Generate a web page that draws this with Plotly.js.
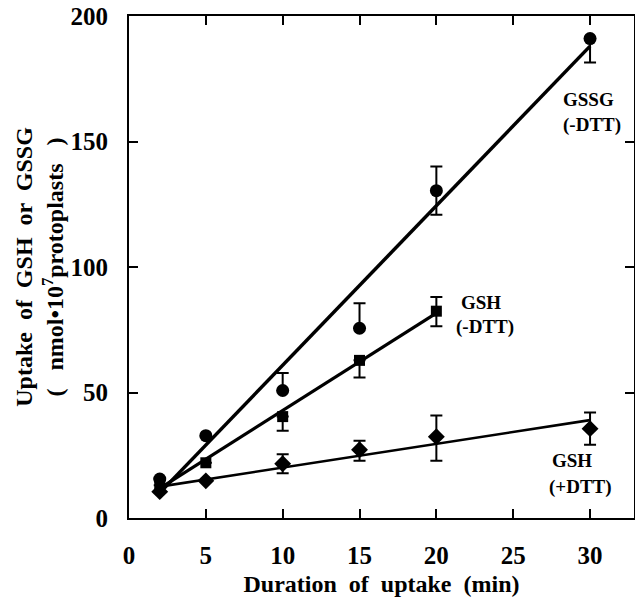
<!DOCTYPE html>
<html>
<head>
<meta charset="utf-8">
<script src="https://cdn.plot.ly/plotly-3.0.1.min.js"></script>
<style>html,body{margin:0;padding:0;background:#fff;}#chart{width:635px;height:597px;}</style>
</head>
<body>
<div id="chart"></div>
<script>
// Time points (min)
const timeGSSG = [2, 5, 10, 15, 20, 30];
const timeGSHminus = [2, 5, 10, 15, 20];
const timeGSHplus = [2, 5, 10, 15, 20, 30];

// Uptake values (nmol per 10^7 protoplasts)
const gssgMinusDTT = [15.5, 32.8, 50.8, 75.6, 130.4, 191];
const gssgErrUp    = [0, 0, 7, 10, 9.6, 0];
const gssgErrDown  = [0, 0, 0, 0, 9.6, 9.5];

const gshMinusDTT  = [13, 22, 40.4, 62.8, 82.4];
const gshMErrUp    = [0, 0, 0, 0, 5.6];
const gshMErrDown  = [0, 0, 5.6, 6.8, 6];

const gshPlusDTT   = [10.5, 14.8, 21.6, 27.2, 32.4, 35.6];
const gshPErrUp    = [0, 0, 3.8, 3.6, 8.4, 6.4];
const gshPErrDown  = [0, 0, 3.8, 4.4, 9.6, 6.4];

// Regression lines (endpoints)
const gssgFitX = [2, 30],  gssgFitY = [10, 188];
const gshMFitX = [2, 20],  gshMFitY = [11.8, 81.6];
const gshPFitX = [2, 30],  gshPFitY = [12.5, 39];

// Tick labels
const xTicks = [0, 5, 10, 15, 20, 25, 30];
const yTicks = [0, 50, 100, 150, 200];

const serif = 'Liberation Serif, Times New Roman, serif';
const black = '#000';

function errBar(up, down) {
  return {type: 'data', symmetric: false, array: up, arrayminus: down,
          color: black, thickness: 2, width: 6};
}

const traces = [
  {x: gssgFitX, y: gssgFitY, mode: 'lines', line: {color: black, width: 3.5}, hoverinfo: 'skip', showlegend: false},
  {x: gshMFitX, y: gshMFitY, mode: 'lines', line: {color: black, width: 3.2}, hoverinfo: 'skip', showlegend: false},
  {x: gshPFitX, y: gshPFitY, mode: 'lines', line: {color: black, width: 2.6}, hoverinfo: 'skip', showlegend: false},
  {x: timeGSSG, y: gssgMinusDTT, name: 'GSSG (-DTT)', mode: 'markers',
   marker: {symbol: 'circle', size: 13, color: black}, error_y: errBar(gssgErrUp, gssgErrDown)},
  {x: timeGSHminus, y: gshMinusDTT, name: 'GSH (-DTT)', mode: 'markers',
   marker: {symbol: 'square', size: 11, color: black}, error_y: errBar(gshMErrUp, gshMErrDown)},
  {x: timeGSHplus, y: gshPlusDTT, name: 'GSH (+DTT)', mode: 'markers',
   marker: {symbol: 'diamond', size: 13, color: black}, error_y: errBar(gshPErrUp, gshPErrDown)}
];

const labelFont = {family: serif, size: 19, color: black, weight: 'bold'};
function lab(x, y, t) {
  return {x: x, y: y, xref: 'x', yref: 'y', text: t, showarrow: false,
          font: labelFont, xanchor: 'center', yanchor: 'middle'};
}

const layout = {
  width: 635, height: 597,
  margin: {l: 129, r: 1, t: 16, b: 79, pad: 0},
  paper_bgcolor: '#fff', plot_bgcolor: '#fff',
  showlegend: false,
  font: {family: serif, color: black},
  xaxis: {
    range: [0, 32.86], tickvals: xTicks, ticktext: xTicks.map(String),
    showgrid: false, zeroline: false,
    showline: true, linecolor: black, linewidth: 2, mirror: 'allticks',
    ticks: 'inside', ticklen: 9, tickwidth: 2, tickcolor: black,
    tickfont: {family: serif, size: 25, color: black, weight: 'bold'},
    ticklabelstandoff: 14,
    title: {text: 'Duration  of  uptake  (min)', standoff: 8,
            font: {family: serif, size: 24, color: black, weight: 'bold'}}
  },
  yaxis: {
    range: [0, 200], tickvals: yTicks, ticktext: yTicks.map(String),
    showgrid: false, zeroline: false,
    showline: true, linecolor: black, linewidth: 2, mirror: 'allticks',
    ticks: 'inside', ticklen: 9, tickwidth: 2, tickcolor: black,
    tickfont: {family: serif, size: 25, color: black, weight: 'bold'},
    ticklabelstandoff: 14,
    title: {text: 'Uptake  of  GSH  or  GSSG<br>(   nmol•10<sup>7</sup>protoplasts   )', standoff: 0,
            font: {family: serif, size: 24, color: black, weight: 'bold'}}
  },
  annotations: [
    lab(29.93, 166.8, 'GSSG'),
    lab(30.12, 156.4, '(-DTT)'),
    lab(22.9, 86, 'GSH'),
    lab(23.16, 76, '(-DTT)'),
    lab(28.82, 22.8, 'GSH'),
    lab(29.41, 12.4, '(+DTT)')
  ]
};

Plotly.newPlot('chart', traces, layout, {displayModeBar: false, staticPlot: true});
</script>
</body>
</html>
